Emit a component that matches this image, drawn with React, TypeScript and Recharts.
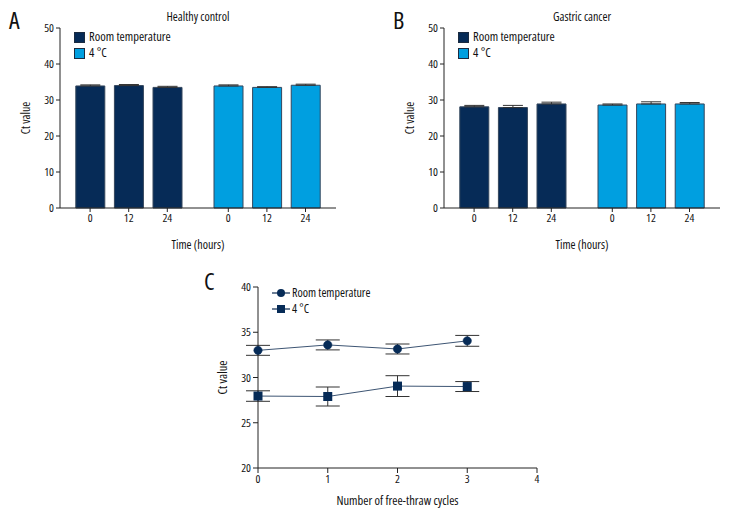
import { BarChart, Bar, XAxis, YAxis, ErrorBar, Cell, LineChart, Line } from "recharts";

const HOURS = ["0", "12", "24"];
const HC_ROOM = [33.9, 34.0, 33.5];
const HC_ROOM_ERR = [0.3, 0.3, 0.3];
const HC_COLD = [33.9, 33.5, 34.1];
const HC_COLD_ERR = [0.3, 0.2, 0.3];
const GC_ROOM = [28.1, 27.9, 28.9];
const GC_ROOM_ERR = [0.4, 0.6, 0.5];
const GC_COLD = [28.6, 28.9, 28.9];
const GC_COLD_ERR = [0.3, 0.6, 0.4];

const CYCLES = [0, 1, 2, 3];
const FT_ROOM = [33.0, 33.6, 33.15, 34.05];
const FT_ROOM_ERR = [0.55, 0.55, 0.55, 0.6];
const FT_COLD = [27.95, 27.9, 29.05, 29.0];
const FT_COLD_ERR = [0.58, 1.05, 1.15, 0.55];

const NAVY = "#062b57";
const SKY = "#009fe0";
const LINE = "#3d5573";
const FONT = '"Open Sans", "DejaVu Sans Condensed", sans-serif';
const GROUP_OFFSET = 3.58;

const tickStyle = { fontSize: 11.5, fill: "#111" };
const axisStroke = "#222";

function buildRows(room: number[], roomErr: number[], cold: number[], coldErr: number[]) {
  const rows = HOURS.map((h, i) => ({ pos: i, hour: h, value: room[i], err: [0, roomErr[i]], color: NAVY }));
  HOURS.forEach((h, i) =>
    rows.push({ pos: i + GROUP_OFFSET, hour: h, value: cold[i], err: [0, coldErr[i]], color: SKY })
  );
  return rows;
}

function BarLegend({ left, top }: { left: number; top: number }) {
  const items = [
    { label: "Room temperature", color: NAVY },
    { label: "4 °C", color: SKY },
  ];
  return (
    <div style={{ position: "absolute", left, top, fontSize: 12.5, lineHeight: "16px", color: "#111" }}>
      {items.map((it) => (
        <div key={it.label} style={{ display: "flex", alignItems: "center" }}>
          <span
            style={{
              display: "inline-block",
              width: 9,
              height: 9,
              background: it.color,
              border: "1px solid #1b2b40",
              marginRight: 4,
            }}
          />
          {it.label}
        </div>
      ))}
    </div>
  );
}

function BarPanel({ rows, title, letter, left }: { rows: ReturnType<typeof buildRows>; title: string; letter: string; left: number }) {
  return (
    <div style={{ position: "absolute", left, top: 0, width: 372, height: 252 }}>
      <BarChart width={372} height={252} data={rows} margin={{ top: 28, right: 36, bottom: 0, left: 0 }}>
        <XAxis
          type="number"
          dataKey="pos"
          domain={[-0.78, 6.37]}
          ticks={rows.map((r) => r.pos)}
          tickFormatter={(v) => rows.find((r) => Math.abs(r.pos - v) < 1e-6)?.hour ?? ""}
          tick={tickStyle}
          stroke={axisStroke}
          tickSize={4}
          height={44}
          allowDataOverflow
          label={{ value: "Time (hours)", position: "insideBottom", offset: 3, style: { fontSize: 12, fill: "#111" } }}
        />
        <YAxis
          domain={[0, 50]}
          ticks={[0, 10, 20, 30, 40, 50]}
          tick={tickStyle}
          stroke={axisStroke}
          tickSize={4}
          width={60}
          label={{ value: "Ct value", angle: -90, position: "insideLeft", offset: 26, style: { fontSize: 12, fill: "#111", textAnchor: "middle" } }}
        />
        <Bar dataKey="value" barSize={29} stroke="#34465c" strokeWidth={1} isAnimationActive={false}>
          {rows.map((r) => (
            <Cell key={r.pos} fill={r.color} />
          ))}
          <ErrorBar dataKey="err" width={10} stroke="#333" strokeWidth={1} direction="y" />
        </Bar>
      </BarChart>
      <BarLegend left={74} top={29} />
      <div style={{ position: "absolute", left: 0, top: 8, width: 396, textAlign: "center", fontSize: 12, color: "#111" }}>{title}</div>
      <div style={{ position: "absolute", left: 9, top: 3, fontSize: 24, color: "#111" }}>{letter}</div>
    </div>
  );
}

function SquareDot(props: any) {
  const { cx, cy } = props;
  if (cx == null || cy == null) return null;
  return <rect x={cx - 4.5} y={cy - 4.5} width={9} height={9} fill={NAVY} />;
}

function LineLegend({ left, top }: { left: number; top: number }) {
  const items = [
    { label: "Room temperature", shape: "circle" },
    { label: "4 °C", shape: "square" },
  ];
  return (
    <div style={{ position: "absolute", left, top, fontSize: 12, lineHeight: "16px", color: "#111" }}>
      {items.map((it) => (
        <div key={it.label} style={{ display: "flex", alignItems: "center" }}>
          <svg width={18} height={10} style={{ marginRight: 2 }}>
            <line x1={0} y1={5} x2={18} y2={5} stroke={LINE} strokeWidth={1.5} />
            {it.shape === "circle" ? (
              <circle cx={9} cy={5} r={4} fill={NAVY} />
            ) : (
              <rect x={5} y={1} width={8} height={8} fill={NAVY} />
            )}
          </svg>
          {it.label}
        </div>
      ))}
    </div>
  );
}

export default function App() {
  const hc = buildRows(HC_ROOM, HC_ROOM_ERR, HC_COLD, HC_COLD_ERR);
  const gc = buildRows(GC_ROOM, GC_ROOM_ERR, GC_COLD, GC_COLD_ERR);
  const ft = CYCLES.map((c, i) => ({
    cycle: c,
    room: FT_ROOM[i],
    roomErr: FT_ROOM_ERR[i],
    cold: FT_COLD[i],
    coldErr: FT_COLD_ERR[i],
  }));

  return (
    <div
      style={{
        position: "absolute",
        left: 0,
        top: 0,
        width: 744,
        height: 516,
        background: "#fff",
        fontFamily: FONT,
        fontStretch: "75%",
        overflow: "hidden",
      }}
    >
      <BarPanel rows={hc} title="Healthy control" letter="A" left={0} />
      <BarPanel rows={gc} title="Gastric cancer" letter="B" left={384} />

      <div style={{ position: "absolute", left: 190, top: 250, width: 400, height: 266 }}>
        <LineChart width={400} height={266} data={ft} margin={{ top: 37, right: 53, bottom: 0, left: 0 }}>
          <XAxis
            type="number"
            dataKey="cycle"
            domain={[0, 4]}
            ticks={[0, 1, 2, 3, 4]}
            tick={tickStyle}
            stroke={axisStroke}
            tickSize={5}
            height={48}
            label={{ value: "Number of free-thraw cycles", position: "insideBottom", offset: 11, style: { fontSize: 12.5, fill: "#111" } }}
          />
          <YAxis
            domain={[20, 40]}
            ticks={[20, 25, 30, 35, 40]}
            tick={tickStyle}
            stroke={axisStroke}
            tickSize={5}
            width={68}
            label={{ value: "Ct value", angle: -90, position: "insideLeft", offset: 33, style: { fontSize: 12.5, fill: "#111", textAnchor: "middle" } }}
          />
          <Line
            dataKey="room"
            stroke={LINE}
            strokeWidth={1}
            dot={{ r: 4.2, fill: NAVY, stroke: NAVY, strokeWidth: 0.5 }}
            isAnimationActive={false}
          >
            <ErrorBar dataKey="roomErr" width={12} stroke="#333" strokeWidth={1} direction="y" />
          </Line>
          <Line dataKey="cold" stroke={LINE} strokeWidth={1} dot={<SquareDot />} isAnimationActive={false}>
            <ErrorBar dataKey="coldErr" width={12} stroke="#333" strokeWidth={1} direction="y" />
          </Line>
        </LineChart>
        <LineLegend left={82} top={35} />
        <div style={{ position: "absolute", left: 14, top: 14, fontSize: 24, color: "#111" }}>C</div>
      </div>
    </div>
  );
}
